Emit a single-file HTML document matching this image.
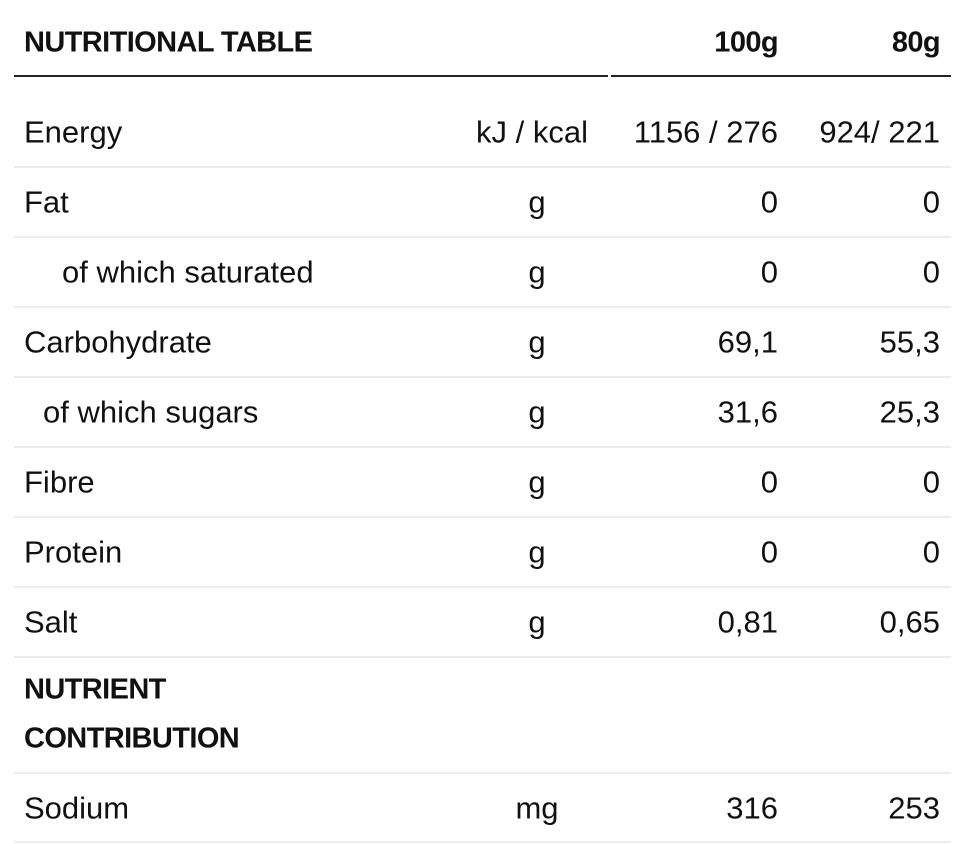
<!DOCTYPE html>
<html><head><meta charset="utf-8"><style>
body{margin:0;width:970px;height:844px;background:#fff;font-family:"Liberation Sans",Arial,sans-serif;color:#111;position:relative;overflow:hidden}
.t{position:absolute;white-space:nowrap;line-height:1;transform:translateY(-50%);font-size:31px}
.h{font-weight:bold;font-size:29px;letter-spacing:-0.6px}
.l{left:24px}
.u{left:537px;transform:translate(-50%,-50%)}
.a{right:192px}
.b{right:30px}
.sep{position:absolute;left:14px;width:937px;height:2px;background:#ececec}
</style></head><body>
<div class="t h l" style="top:43px">NUTRITIONAL TABLE</div>
<div class="t h a" style="top:43px">100g</div>
<div class="t h b" style="top:43px">80g</div>
<div style="position:absolute;left:14px;top:75px;width:594px;height:2px;background:#222"></div>
<div style="position:absolute;left:611px;top:75px;width:340px;height:2px;background:#222"></div>
<div id="rows"></div>
<div class="t h l" style="top:690px">NUTRIENT</div>
<div class="t h l" style="top:739px">CONTRIBUTION</div>
<div class="sep" style="top:772px"></div>
<div class="t l" style="top:808px">Sodium</div>
<div class="t u" style="top:808px">mg</div>
<div class="t a" style="top:808px">316</div>
<div class="t b" style="top:808px">253</div>
<div class="sep" style="top:841px"></div>
<script>
const labels=["Energy","Fat","of which saturated","Carbohydrate","of which sugars","Fibre","Protein","Salt"];
const indents=[0,0,38,0,19,0,0,0];
const units=["kJ / kcal","g","g","g","g","g","g","g"];
const per100=["1156 / 276","0","0","69,1","31,6","0","0","0,81"];
const per80=["924/ 221","0","0","55,3","25,3","0","0","0,65"];
const root=document.getElementById('rows');
labels.forEach((lab,i)=>{
  const y=132+70*i;
  const mk=(cls,txt,name)=>{const d=document.createElement('div');d.className='t '+cls;d.style.top=y+'px';d.textContent=txt;
    
    
    root.appendChild(d);return d;};
  const l=mk('l',lab,'row-label');l.style.left=(24+indents[i])+'px';
  const u=mk('u',units[i],'row-unit');
  if(i==0){u.style.left='476px';u.style.transform='translateY(-50%)';}
  mk('a',per100[i],'row-value-100g');
  mk('b',per80[i],'row-value-80g');
  const s=document.createElement('div');s.className='sep';s.style.top=(y+34)+'px';
  
  
  root.appendChild(s);
});
</script>
</body></html>
